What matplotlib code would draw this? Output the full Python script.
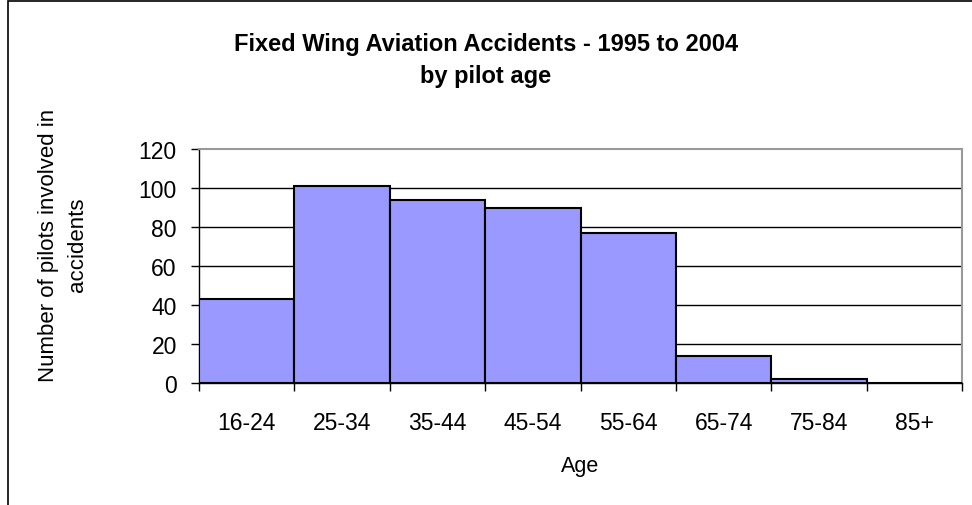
import numpy as np
import matplotlib.pyplot as plt
from matplotlib.patches import Rectangle

# datos
age_groups = ['16-24', '25-34', '35-44', '45-54', '55-64', '65-74', '75-84', '85+']
pilots = [43, 101, 94, 90, 77, 14, 2, 0]
y_ticks = [0, 20, 40, 60, 80, 100, 120]

plt.rcParams['font.family'] = ['Liberation Sans', 'DejaVu Sans']

fig = plt.figure(figsize=(9.72, 5.06), dpi=100)
ax = fig.add_axes([199/972, 1 - 384/506, (962 - 199)/972, (384 - 150)/506])

pos = np.arange(len(age_groups))
ax.bar(pos, pilots, width=1.0, color='#9999FF', edgecolor='black', linewidth=1.5, zorder=3)

ax.set_xlim(-0.5, len(age_groups) - 0.5)
ax.set_ylim(0, 120)
ax.set_yticks(y_ticks)
ax.set_yticklabels([str(v) for v in y_ticks], fontsize=16.5)
ax.tick_params(axis='y', length=6, width=1, pad=10)

# ticks en los limites de cada barra, etiquetas al centro
ax.set_xticks(np.arange(len(age_groups) + 1) - 0.5)
ax.set_xticklabels([])
ax.tick_params(axis='x', which='major', length=6, width=1)
ax.set_xticks(pos, minor=True)
ax.set_xticklabels(age_groups, minor=True, fontsize=16.5)
ax.tick_params(axis='x', which='minor', length=0, pad=20)

for v in y_ticks[1:-1]:
    ax.axhline(v, color='black', linewidth=1, zorder=1)

for s in ['top', 'right']:
    ax.spines[s].set_color('#999999')
    ax.spines[s].set_linewidth(1.5)
for s in ['left', 'bottom']:
    ax.spines[s].set_color('black')
    ax.spines[s].set_linewidth(1)

ax.set_xlabel('Age', fontsize=15.5, labelpad=15)
ax.set_ylabel('Number of pilots involved in\naccidents', fontsize=16, linespacing=1.45, va='center')
ax.yaxis.set_label_coords((63 - 199)/763, (384 - 245)/234)

fig.text(0.5, 1 - 45/506, 'Fixed Wing Aviation Accidents - 1995 to 2004', ha='center', va='center',
         fontsize=17, fontweight='bold')
fig.text(0.5, 1 - 76/506, 'by pilot age', ha='center', va='center', fontsize=17, fontweight='bold')

# marco exterior
fig.patches.append(Rectangle((8/972, -0.1), 1.2, 1 - 2/506 + 0.1, transform=fig.transFigure,
                             fill=False, edgecolor='black', linewidth=1.2))

fig.savefig('out.png', dpi=100)
